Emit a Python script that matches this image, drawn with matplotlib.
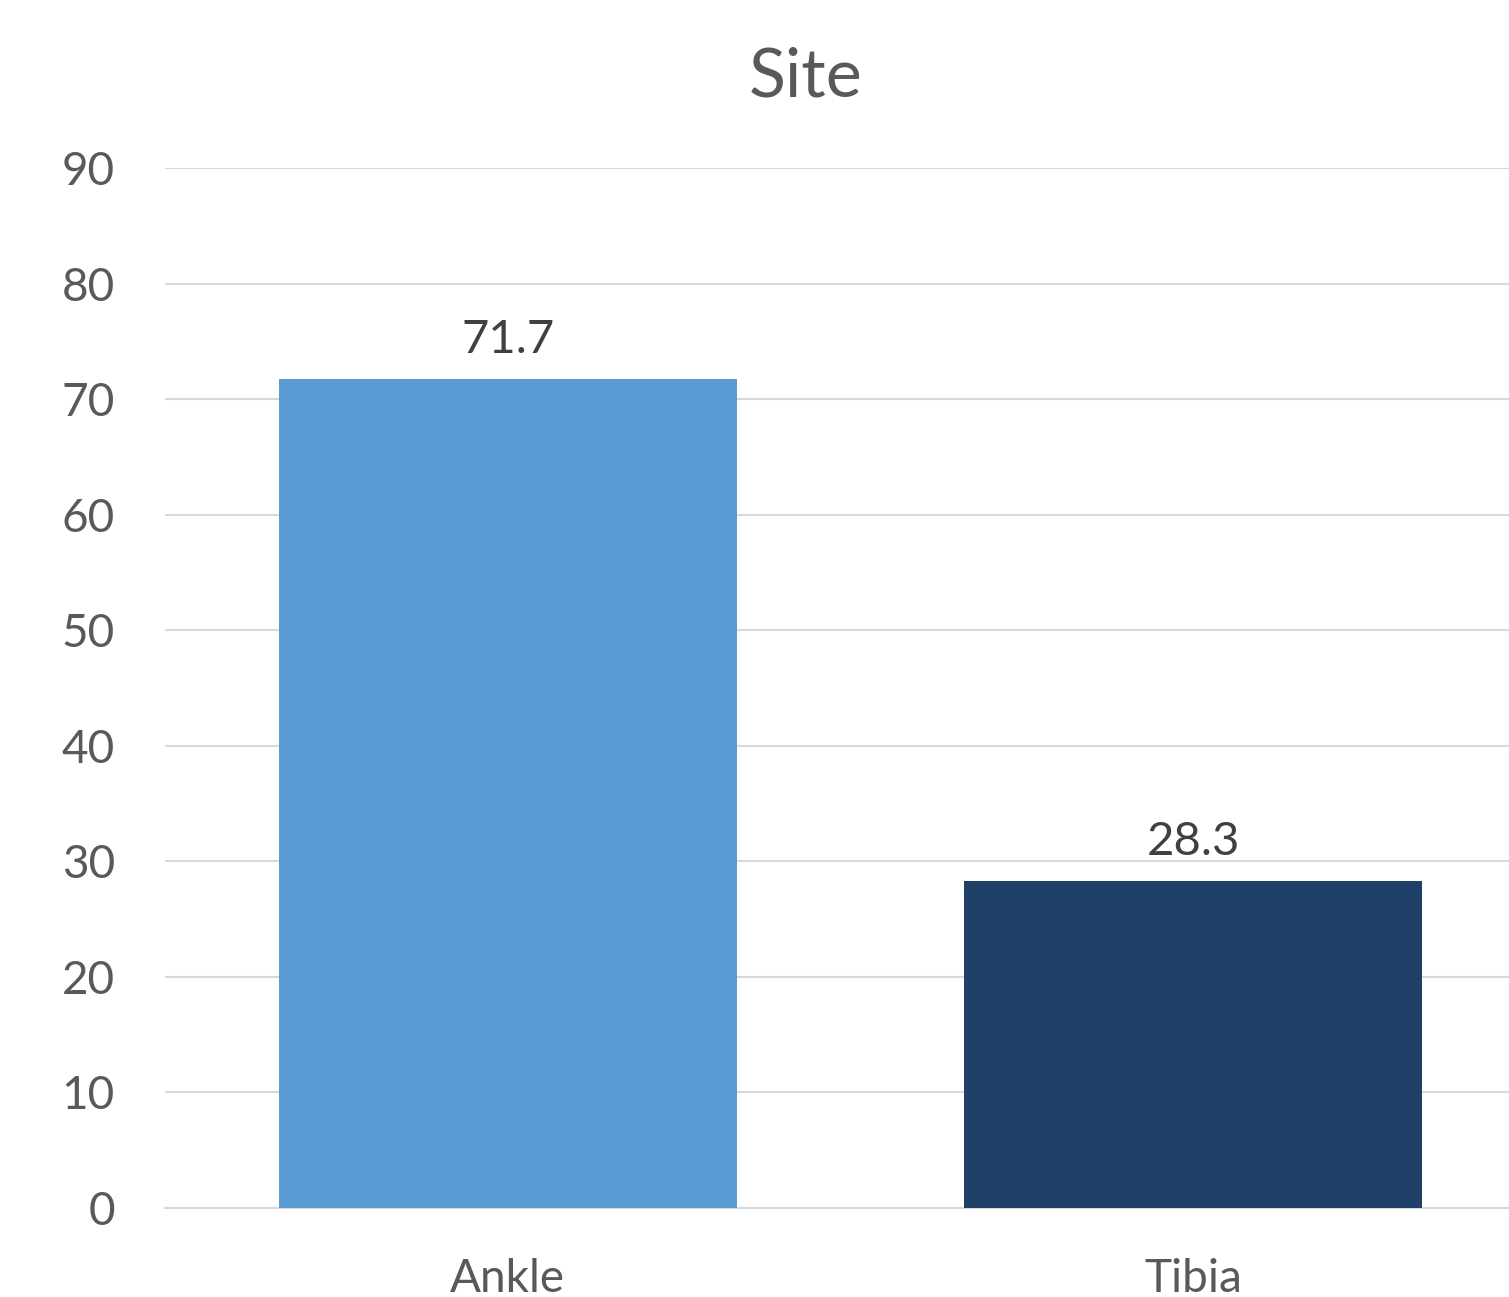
import matplotlib
matplotlib.use('Agg')
import matplotlib.pyplot as plt

# share of cases by site (%)
sites = ['Ankle', 'Tibia']
percent = [71.7, 28.3]
bar_colors = ['#5B9BD5', '#1F4168']
yticks = list(range(0, 100, 10))

plt.rcParams['font.family'] = ['Lato', 'DejaVu Sans']

fig = plt.figure(figsize=(15.09, 12.97), dpi=100)
ax = fig.add_axes([0.1093, 0.0686, 0.9085, 0.8019])

x = range(len(sites))
bars = ax.bar(x, percent, width=0.668, color=bar_colors, zorder=3)

for rect, val in zip(bars, percent):
    ax.annotate(f'{val:.1f}',
                xy=(rect.get_x() + rect.get_width() / 2, rect.get_height()),
                xytext=(0, 13), textcoords='offset points',
                ha='center', va='bottom', fontsize=34, color='#404040')

ax.set_xlim(-0.5, 1.5)
ax.set_ylim(0, 90)
ax.set_yticks(yticks)
ax.set_xticks(list(x))
ax.set_xticklabels(sites)
ax.tick_params(axis='y', length=0, pad=36, labelsize=33, labelcolor='#595959')
ax.tick_params(axis='x', length=0, pad=36, labelsize=33, labelcolor='#595959')
for lbl in ax.get_yticklabels():
    lbl.set_horizontalalignment('right')

ax.grid(axis='y', color='#D9D9D9', linewidth=1.5, zorder=0)
for side in ['top', 'right', 'left']:
    ax.spines[side].set_visible(False)
ax.spines['bottom'].set_color('#D9D9D9')
ax.spines['bottom'].set_linewidth(1.5)

fig.text(0.534, 0.94, 'Site', ha='center', va='center', fontsize=49, color='#595959')

fig.savefig('out.png', dpi=100)
